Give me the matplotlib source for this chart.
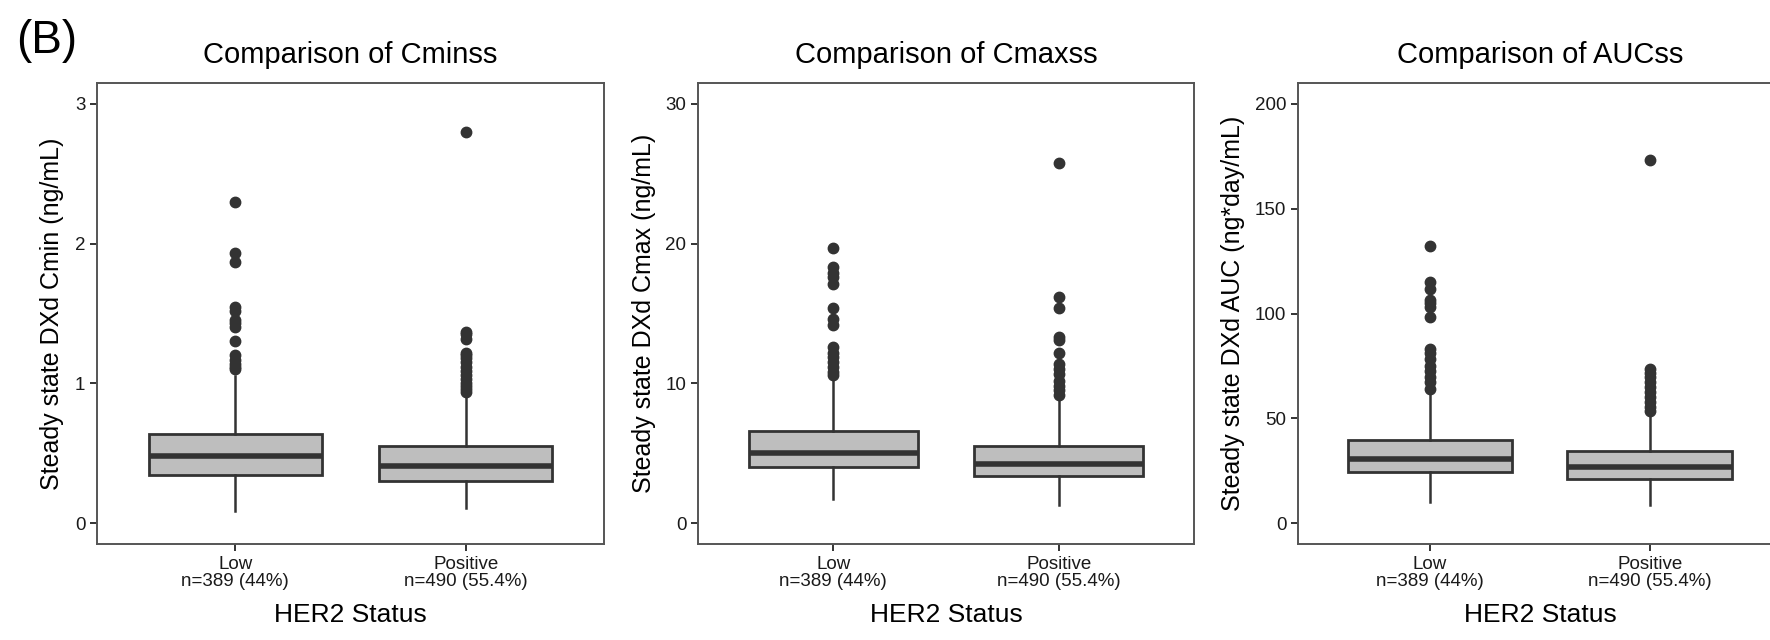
import matplotlib
matplotlib.use("Agg")
import matplotlib.pyplot as plt

plt.rcParams['font.family'] = ['Liberation Sans', 'DejaVu Sans']

groups = ["Low\nn=389 (44%)", "Positive\nn=490 (55.4%)"]
titles = ["Comparison of Cminss", "Comparison of Cmaxss", "Comparison of AUCss"]
ylabels = ["Steady state DXd Cmin (ng/mL)",
           "Steady state DXd Cmax (ng/mL)",
           "Steady state DXd AUC (ng*day/mL)"]
ylims = [3, 30, 200]
yticks = [[0, 1, 2, 3], [0, 10, 20, 30], [0, 50, 100, 150, 200]]

# box summaries: [Low, Positive]
cmin_q1 = [0.342, 0.302]
cmin_med = [0.480, 0.409]
cmin_q3 = [0.639, 0.549]
cmin_lo = [0.088, 0.105]
cmin_hi = [1.05, 0.92]
cmin_out_low = [2.30, 1.93, 1.87, 1.55, 1.52, 1.45, 1.43, 1.40, 1.30,
                1.20, 1.17, 1.14, 1.12, 1.10]
cmin_out_pos = [2.80, 1.37, 1.35, 1.32, 1.22, 1.20, 1.18, 1.15, 1.12,
                1.09, 1.06, 1.03, 1.00, 0.98, 0.96, 0.94]

cmax_q1 = [3.98, 3.34]
cmax_med = [5.00, 4.24]
cmax_q3 = [6.59, 5.50]
cmax_lo = [1.70, 1.27]
cmax_hi = [10.4, 9.0]
cmax_out_low = [19.7, 18.3, 17.9, 17.6, 17.1, 15.4, 14.6, 14.2, 12.6,
                12.2, 11.9, 11.5, 11.2, 10.8, 10.6]
cmax_out_pos = [25.8, 16.2, 15.4, 13.3, 13.1, 12.2, 11.4, 11.0, 10.7,
                10.2, 9.8, 9.5, 9.15]

auc_q1 = [24.3, 21.1]
auc_med = [30.6, 26.7]
auc_q3 = [39.8, 34.4]
auc_lo = [10.1, 8.8]
auc_hi = [61.0, 51.2]
auc_out_low = [132, 114.9, 111.7, 106.6, 104.8, 103.2, 98.2, 83.2, 81.3,
               78.5, 75.0, 72.6, 69.5, 67.1, 63.9]
auc_out_pos = [173.2, 73.7, 71.8, 69.5, 67.1, 64.8, 62.4, 60.0, 57.7,
               55.3, 53.6]

panels = [
    (cmin_q1, cmin_med, cmin_q3, cmin_lo, cmin_hi, [cmin_out_low, cmin_out_pos]),
    (cmax_q1, cmax_med, cmax_q3, cmax_lo, cmax_hi, [cmax_out_low, cmax_out_pos]),
    (auc_q1, auc_med, auc_q3, auc_lo, auc_hi, [auc_out_low, auc_out_pos]),
]

W, H = 1770, 640
fig = plt.figure(figsize=(W / 100, H / 100), dpi=100)

# panel boxes in pixels: left, width
boxes = [(97, 507), (698, 496), (1298, 484)]
top, bottom = 83, 544
ylab_x = [52, 644, 1233]

dark = '#333333'
txt = '#1a1a1a'

for i, (q1, med, q3, lo, hi, outs) in enumerate(panels):
    left, width = boxes[i]
    ax = fig.add_axes([left / W, (H - bottom) / H, width / W, (bottom - top) / H])
    stats = []
    for j in range(2):
        stats.append(dict(q1=q1[j], med=med[j], q3=q3[j],
                          whislo=lo[j], whishi=hi[j], fliers=outs[j]))
    ax.bxp(stats, positions=[1, 2], widths=0.75, patch_artist=True,
           showcaps=False,
           boxprops=dict(facecolor='#bebebe', edgecolor=dark, linewidth=2),
           medianprops=dict(color=dark, linewidth=4, solid_capstyle='butt'),
           whiskerprops=dict(color=dark, linewidth=1.8),
           flierprops=dict(marker='o', markersize=7.5, markerfacecolor=dark,
                           markeredgecolor=dark))
    ax.set_xlim(0.4, 2.6)
    top_v = ylims[i]
    ax.set_ylim(-0.05 * top_v, 1.05 * top_v)
    ax.set_yticks(yticks[i])
    ax.set_xticks([1, 2])
    ax.set_xticklabels(groups, linespacing=1.0)
    ax.tick_params(axis='both', length=4.8, width=1.4, color=dark,
                   labelsize=13.5, labelcolor=txt, pad=3.5)
    for s in ax.spines.values():
        s.set_color('#555555')
        s.set_linewidth(1.4)
    ax.set_title(titles[i], fontsize=21, pad=14.4, color='black')
    ax.set_ylabel(ylabels[i], fontsize=18, color='black')
    ax.yaxis.label.set_verticalalignment('center')
    ax.yaxis.set_label_coords((ylab_x[i] - left) / width, 0.5)
    ax.set_xlabel("HER2 Status", fontsize=19, color='black')
    ax.xaxis.label.set_verticalalignment('top')
    ax.xaxis.set_label_coords(0.5, (bottom - 603) / (bottom - top))

fig.text(16 / W, 1 - 53 / H, "(B)", fontsize=33, va='baseline', ha='left')

fig.savefig("out.png", dpi=100)
